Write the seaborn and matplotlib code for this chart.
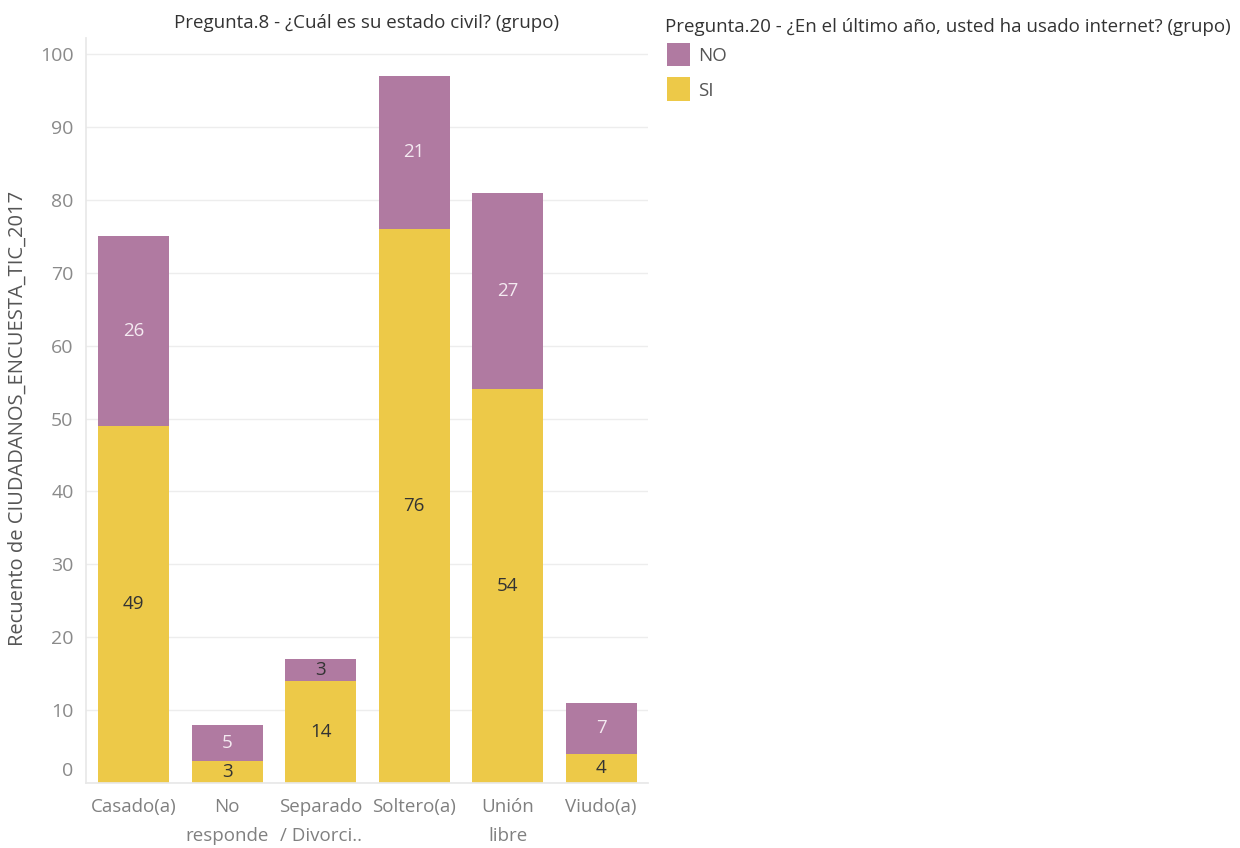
import matplotlib
matplotlib.use("Agg")
import matplotlib.pyplot as plt
import matplotlib.transforms as mtransforms
from matplotlib.patches import Rectangle
import seaborn as sns
import pandas as pd
import numpy as np

# Survey counts by marital status, split by internet use in the last year
categories = ["Casado(a)", "No\nresponde", "Separado\n/ Divorci..", "Soltero(a)", "Unión\nlibre", "Viudo(a)"]
no_counts = [26, 5, 3, 21, 27, 7]
si_counts = [49, 3, 14, 76, 54, 4]
series_names = ["NO", "SI"]

title = "Pregunta.8 - ¿Cuál es su estado civil? (grupo)"
legend_title = "Pregunta.20 - ¿En el último año, usted ha usado internet? (grupo)"
y_label = "Recuento de CIUDADANOS_ENCUESTA_TIC_2017"

COL_NO = "#B07AA1"
COL_SI = "#EDC948"
FS = 13.5
W, H = 1240, 848

sns.set_theme(style="white")
plt.rcParams["font.family"] = ["Open Sans", "DejaVu Sans"]

df = pd.DataFrame({
    "cat": categories,
    "NO": no_counts,
    "SI": si_counts,
})
df["total"] = df["NO"] + df["SI"]

fig = plt.figure(figsize=(W / 100, H / 100), dpi=100)
ax = fig.add_axes([86 / W, 1 - 783 / H, (648 - 86) / W, (783 - 38) / H])

# Stacked bars: total drawn first (NO on top), SI drawn over it from zero
sns.barplot(data=df, x="cat", y="total", color=COL_NO, width=0.76,
            saturation=1, ax=ax, linewidth=0)
sns.barplot(data=df, x="cat", y="SI", color=COL_SI, width=0.76,
            saturation=1, ax=ax, linewidth=0)

ax.set_ylim(0, 102.2)
ax.set_xlim(-0.51, 5.49)
ax.set_yticks(np.arange(0, 101, 10))
ax.yaxis.grid(True, color="#EDEDED", linewidth=1)
ax.set_axisbelow(True)

for s in ["top", "right"]:
    ax.spines[s].set_visible(False)
ax.spines["left"].set_color("#E8E8E8")
ax.spines["bottom"].set_color("#E8E8E8")

ax.set_xlabel("")
ax.set_ylabel(y_label, fontsize=14.5, color="#555555")
ax.yaxis.set_label_coords(-0.104, 0.489)
ax.tick_params(axis="y", length=0, labelsize=14, labelcolor="#8A8A8A", pad=9)
ax.tick_params(axis="x", which="major", length=0, labelsize=FS, labelcolor="#808080", pad=11)
for lbl in ax.get_xticklabels():
    lbl.set_linespacing(1.75)
ax.set_xticks(np.arange(-0.5, 6, 1), minor=True)
ax.tick_params(axis="x", which="minor", length=8, color="#E8E8E8", width=1)

# Lift the "0" label above the baseline
for lbl in ax.get_yticklabels():
    if lbl.get_text() == "0":
        lbl.set_transform(lbl.get_transform() + mtransforms.ScaledTranslation(0, 14 / 100, fig.dpi_scale_trans))

# Segment value labels
for i, (n, s) in enumerate(zip(no_counts, si_counts)):
    ax.text(i, s / 2, str(s), ha="center", va="center", fontsize=FS, color="#333333")
    ncol = "#333333" if n < 4 else "#F4EAF1"
    ax.text(i, s + n / 2, str(n), ha="center", va="center", fontsize=FS, color=ncol)

fig.text((86 + 648) / 2 / W, 1 - 23 / H, title, ha="center", va="center",
         fontsize=FS, color="#333333")

# Legend: title, colour swatches and labels
fig.text(665 / W, 1 - 27 / H, legend_title, ha="left", va="center",
         fontsize=FS, color="#333333")
for k, (name, col) in enumerate(zip(series_names, [COL_NO, COL_SI])):
    top = 43 + k * 34.5
    fig.add_artist(Rectangle((667 / W, 1 - (top + 23) / H), 23 / W, 23 / H,
                             transform=fig.transFigure, facecolor=col, edgecolor="none"))
    fig.text(698 / W, 1 - (top + 13) / H, name, ha="left", va="center",
             fontsize=FS, color="#555555")

fig.savefig("out.png", dpi=100, facecolor="white")
